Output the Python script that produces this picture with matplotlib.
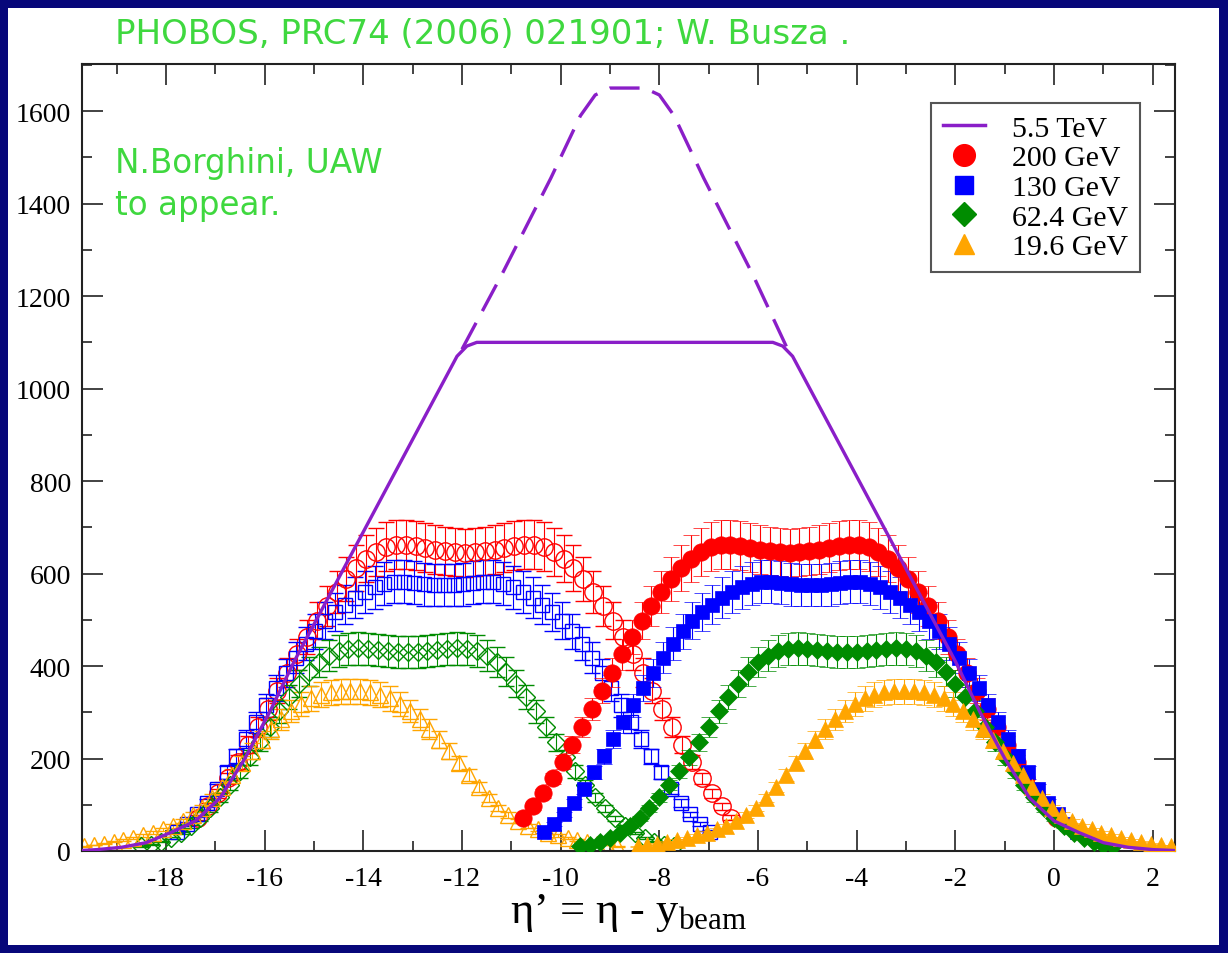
import numpy as np
import matplotlib
matplotlib.use('Agg')
import matplotlib.pyplot as plt
from matplotlib.lines import Line2D
from matplotlib.patches import Rectangle
from matplotlib.ticker import MultipleLocator

# PHOBOS central Au+Au dN/deta, eta bins -5.4 .. 5.4 (0.2 steps)
eta = np.round(np.arange(-5.4, 5.401, 0.2), 1)

dn_200 = [72, 97, 125, 157, 192, 230, 268, 307, 347, 386, 425, 462, 498, 530,
          560, 588, 612, 632, 646, 658, 662, 662, 660, 656, 652, 648, 646,
          645,
          646, 648, 652, 656, 660, 662, 662, 658, 646, 632, 612, 588, 560, 530,
          498, 462, 425, 386, 347, 307, 268, 230, 192, 157, 125, 97, 72]
dn_130 = [42, 58, 79, 104, 135, 170, 205, 242, 278, 315, 352, 385, 418, 448,
          475, 498, 516, 533, 548, 560, 570, 578, 582, 582, 580, 577, 575,
          575,
          575, 577, 580, 582, 582, 578, 570, 560, 548, 533, 516, 498, 475, 448,
          418, 385, 352, 315, 278, 242, 205, 170, 135, 104, 79, 58, 42]
dn_62 = [10, 14, 20, 28, 39, 53, 71, 92, 116, 143, 172, 203, 235, 268,
         302, 333, 362, 388, 408, 422, 432, 437, 438, 437, 435, 433, 431,
         430,
         431, 433, 435, 437, 438, 437, 432, 422, 408, 388, 362, 333, 302, 268,
         235, 203, 172, 143, 116, 92, 71, 53, 39, 28, 20, 14, 10]
dn_19 = [10, 13, 16, 20, 24, 29, 34, 40, 47, 55, 65, 78, 93, 115,
         139, 164, 190, 216, 241, 264, 285, 303, 318, 330, 338, 343, 345,
         345,
         345, 343, 338, 330, 318, 303, 285, 264, 241, 216, 190, 164, 139, 115,
         93, 78, 65, 55, 47, 40, 34, 29, 24, 20, 16, 13, 10]

labels = ['200 GeV', '130 GeV', '62.4 GeV', '19.6 GeV']
y_beam = [5.36, 4.93, 4.20, 3.04]
y_lhc = 8.65
rel_err = 0.08

# 5.5 TeV extrapolation
lhc_x = [-19.7, -19.4, -18.9, -18.4, -17.9, -17.4, -16.9, -16.4, -15.9, -15.4,
         -14.9, -14.4, -13.9, -13.4, -12.9, -12.4, -12.1, -11.9, -11.7,
         -5.7, -5.5, -5.3, -5.0, -4.5, -4.0, -3.5, -3.0, -2.5, -2.0, -1.5,
         -1.0, -0.5, 0.0, 0.5, 1.0, 1.5, 2.0, 2.45]
lhc_y = [1, 3, 8, 18, 40, 65, 115, 200, 300, 410,
         510, 610, 710, 810, 910, 1010, 1070, 1092, 1100,
         1100, 1092, 1070, 1010, 910, 810, 710, 610, 510, 410, 300,
         200, 115, 65, 40, 18, 8, 3, 1]
dash_x = [-12.0, -11.2, -10.2, -9.6, -9.3, -9.0, -8.3, -8.0, -7.7, -7.1, -6.1, -5.4]
dash_y = [1085, 1245, 1455, 1590, 1635, 1650, 1650, 1635, 1590, 1455, 1245, 1085]

colors = ['#ff0000', '#0000ff', '#008c00', '#ffa500']
markers = ['o', 's', 'D', '^']
msizes = [12.5, 10, 9.5, 12]
purple = '#8a1ec8'
green_txt = '#3fd83f'

plt.rcParams['font.family'] = 'Liberation Serif'
plt.rcParams['axes.unicode_minus'] = False
plt.rcParams['mathtext.fontset'] = 'custom'
plt.rcParams['mathtext.rm'] = 'Liberation Serif'
plt.rcParams['mathtext.it'] = 'Liberation Serif'

W, H = 1228, 954
fig = plt.figure(figsize=(W / 100, H / 100), dpi=100, facecolor='#07077a')
fig.add_artist(Rectangle((8 / W, 8 / H), 1211 / W, 937 / H, transform=fig.transFigure,
                         facecolor='white', edgecolor='none', zorder=0))

ax = fig.add_axes([82 / W, 1 - 852 / H, (1175 - 82) / W, (852 - 65) / H])

series = list(zip(labels, [dn_200, dn_130, dn_62, dn_19], y_beam, colors, markers, msizes))

# mirrored (open) points
for lab, vals, yb, c, m, ms in series:
    vals = np.array(vals, dtype=float)
    ax.errorbar(eta + yb - 2 * y_lhc, vals, yerr=rel_err * vals, fmt=m, ms=ms,
                mfc='none', mec=c, mew=1.0, ecolor=c, elinewidth=0.8,
                capsize=5.5, capthick=0.8, zorder=2)
# measured (filled) points
for lab, vals, yb, c, m, ms in series:
    vals = np.array(vals, dtype=float)
    ax.errorbar(eta - yb, vals, yerr=rel_err * vals, fmt=m, ms=ms,
                mfc=c, mec=c, mew=0.5, ecolor=c, elinewidth=0.8,
                capsize=5.5, capthick=0.8, zorder=3)

ax.plot(lhc_x, lhc_y, color=purple, lw=2.4, zorder=4)
ax.plot(dash_x, dash_y, color=purple, lw=2.4, dashes=(9, 4), zorder=4)

ax.set_xlim(-19.7, 2.45)
ax.set_ylim(0, 1702)
ax.xaxis.set_major_locator(MultipleLocator(2))
ax.xaxis.set_minor_locator(MultipleLocator(1))
ax.yaxis.set_major_locator(MultipleLocator(200))
ax.yaxis.set_minor_locator(MultipleLocator(100))
ax.tick_params(which='both', direction='in', top=True, right=True, colors='#222222',
               labelcolor='black', labelsize=20)
ax.tick_params(which='major', length=15, width=1.2)
ax.tick_params(which='minor', length=7, width=1.2)
ax.tick_params(axis='x', pad=11)
ax.tick_params(axis='y', pad=8)
for sp in ax.spines.values():
    sp.set_linewidth(1.5)
    sp.set_color('#222222')

ax.set_xlabel('η’ = η - y$_{\\rm beam}$', fontsize=32, labelpad=0)

handles = [Line2D([], [], color=purple, lw=2.5)]
for c, m, ms in zip(colors, markers, msizes):
    handles.append(Line2D([], [], color=c, marker=m, ls='none', ms=ms * 1.25))
leg = ax.legend(handles, ['5.5 TeV'] + labels, loc='upper right',
                bbox_to_anchor=((1140 - 82) / 1093, (852 - 104) / 787),
                fontsize=21.5, frameon=True, fancybox=False, edgecolor='#555555',
                framealpha=1, handlelength=1.4, handletextpad=0.9,
                labelspacing=0.09, borderpad=0.4, borderaxespad=0)
leg.get_frame().set_linewidth(1.5)

fig.text(115 / W, 1 - 35 / H, 'PHOBOS, PRC74 (2006) 021901; W. Busza .',
         family='DejaVu Sans', fontsize=24.5, color=green_txt, va='center')
fig.text(115 / W, 1 - 163 / H, 'N.Borghini, UAW',
         family='DejaVu Sans', fontsize=23.5, color=green_txt, va='center')
fig.text(115 / W, 1 - 205 / H, 'to appear.',
         family='DejaVu Sans', fontsize=23.5, color=green_txt, va='center')

fig.savefig('out.png', dpi=100, facecolor=fig.get_facecolor())
